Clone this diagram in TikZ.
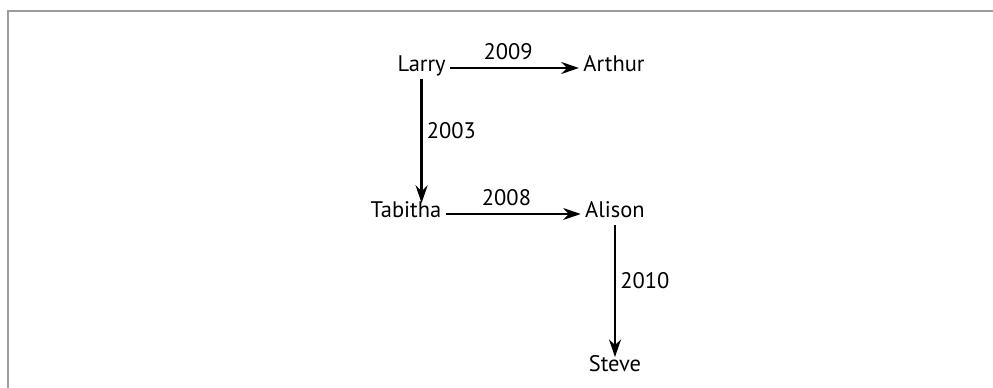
\documentclass[tikz,border=0pt]{standalone}
\usepackage{fontspec}
\setmainfont{PT Sans}
\usetikzlibrary{arrows.meta, positioning}
\definecolor{framegray}{RGB}{155,155,160}

\begin{document}
\begin{tikzpicture}[
      every node/.style={font=\fontsize{16}{19}\selectfont, inner sep=3pt,
        text height=0.72em, text depth=0.2em},
      year/.style={pos=0.45},
      link/.style={->, draw, line width=1.6pt},
      >={Stealth[length=4.4mm, width=3mm]}
    ]
    \useasboundingbox (0,0) rectangle (24.825,9.7);
    \draw [framegray, line width=0.05cm] (0.1875,0) |- (24.825,9.4125);

    \node (larry) at (10.54,8.0) {Larry};
    \node (arthur) at (15.35,8.0) {Arthur};
    \node (tabitha) at (10.15,4.35) {Tabitha};
    \node (alison) at (15.375,4.35) {Alison};
    \node (steve) at (15.375,0.5) {Steve};

    \draw [link] (larry) -- node [year, above] {2009} (arthur);
    \draw [link] (larry.south) -- node [year, right] {2003} (larry.south |- tabitha.north);
    \draw [link] (tabitha) -- node [year, above] {2008} (alison);
    \draw [link] (alison) -- node [year, right] {2010} (steve);
\end{tikzpicture}
\end{document}
